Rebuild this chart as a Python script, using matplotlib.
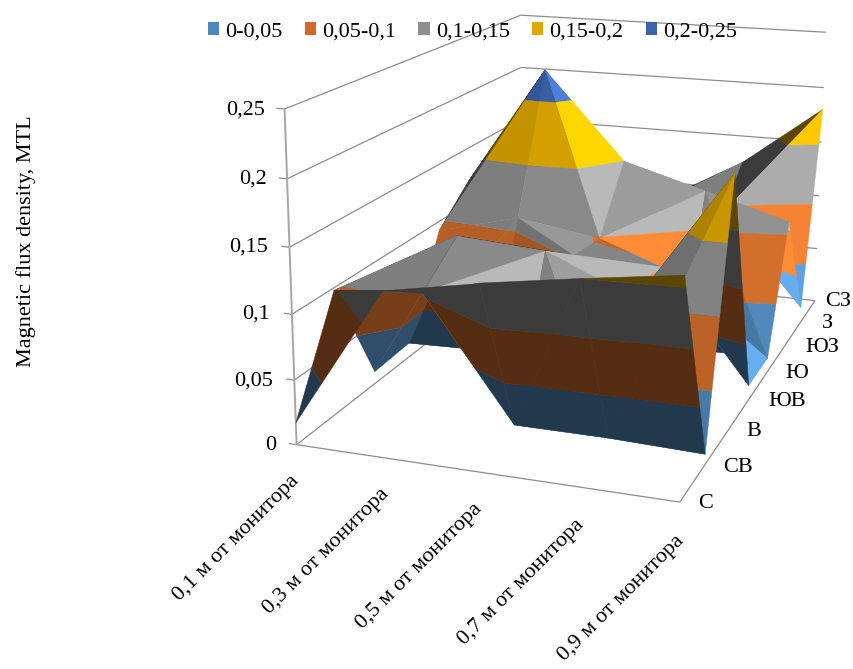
import numpy as np
import matplotlib
matplotlib.use("Agg")
import matplotlib.pyplot as plt
from matplotlib.patches import Patch
from mpl_toolkits.mplot3d.art3d import Poly3DCollection, Line3DCollection

W, H = 854, 669

distances = ['0,1 м от монитора', '0,3 м от монитора', '0,5 м от монитора', '0,7 м от монитора', '0,9 м от монитора']
directions = ['С', 'СВ', 'В', 'ЮВ', 'Ю', 'ЮЗ', 'З', 'СЗ']

# Flux density per direction, one value per distance
row_c = [0.017, 0.126, 0.139, 0.150, 0.160]
row_ne = [0.098, 0.104, 0.010, 0.010, 0.008]
row_e = [0.010, 0.130, 0.125, 0.095, 0.198]
row_se = [0.012, 0.014, 0.103, 0.101, 0.012]
row_s = [0.092, 0.110, 0.099, 0.012, 0.012]
row_sw = [0.120, 0.225, 0.150, 0.130, 0.110]
row_w = [0.110, 0.150, 0.090, 0.095, 0.014]
row_nw = [0.100, 0.120, 0.085, 0.125, 0.180]
flux = np.array([row_c, row_ne, row_e, row_se, row_s, row_sw, row_w, row_nw])

band_edges = [0, 0.05, 0.1, 0.15, 0.2, 0.25]
band_labels = ['0-0,05', '0,05-0,1', '0,1-0,15', '0,15-0,2', '0,2-0,25']
band_colors = ['#5B9BD5', '#ED7D31', '#A5A5A5', '#FFC000', '#4472C4']
legend_colors = ['#4F86BF', '#D0692B', '#8F8F8F', '#E0A800', '#3B63AD']
z_ticks = ['0', '0,05', '0,1', '0,15', '0,2', '0,25']

plt.rcParams['font.family'] = ['Liberation Serif', 'DejaVu Serif']

fig = plt.figure(figsize=(W / 100, H / 100), dpi=100)
ax = fig.add_subplot(projection='3d', computed_zorder=False)
ax.set_position([0, 0, 1, 1])
ax.set_axis_off()

# Camera: solve the 3x4 matrix from known box corners (col, row, value) -> pixel
world = np.array([
    (0, 0, 0), (4, 0, 0), (4, 7, 0), (0, 7, 0),
    (0, 0, 0.25), (0, 0, 0.1), (0, 7, 0.25), (0, 7, 0.2), (0, 7, 0.15),
    (4, 7, 0.25), (4, 7, 0.2), (4, 7, 0.15), (4, 7, 0.1),
])
pixels = np.array([
    (296, 446), (680, 501), (816, 302), (522, 268),
    (285, 109), (292, 314), (520, 16), (520, 68), (522, 118),
    (827, 32), (825, 87), (820, 142), (817, 196),
], dtype=float)

rows, rhs = [], []
for (x, y, z), (u, v) in zip(world, pixels):
    rows.append([x, y, z, 1, 0, 0, 0, 0, -u * x, -u * y, -u * z])
    rows.append([0, 0, 0, 0, x, y, z, 1, -v * x, -v * y, -v * z])
    rhs += [u, v]
sol = np.linalg.lstsq(np.array(rows), np.array(rhs), rcond=None)[0]
camera = np.append(sol, 1.0).reshape(3, 4)
if (camera[2] @ np.array([2, 3.5, 0.1, 1])) < 0:
    camera = -camera


def pixel_proj():
    # pixel coords -> the 2D view coords of the 3D axes
    flip = np.array([[1, 0, 0], [0, -1, H], [0, 0, 1.0]])
    m = ax.transData.inverted().get_matrix() @ flip @ camera
    depth = m[2] - np.array([0, 0, 0, 0.5 * abs(camera[2, 3])])
    return np.array([m[0], m[1], depth, m[2]])


ax.get_proj = pixel_proj

# Surface shading: faces turned away from this direction get the dark underside colour
scale = np.array([0.25, 1 / 7, 3.2])
facing = np.array([0.85, -0.5, 0.25])
# the one face behind the eastern spike that stays in shadow
shadowed = {frozenset({(3, 5), (4, 5), (3, 4)})}


def shade(tri, key):
    if key in shadowed:
        return 0.36
    pts = tri * scale
    n = np.cross(pts[1] - pts[0], pts[2] - pts[0])
    n = n / np.linalg.norm(n)
    if n[2] < 0:
        n = -n
    if n @ facing < 0:
        # undersides open to the left catch a little more light
        if n[0] < -0.4 and n[1] >= -0.2:
            return 0.5
        return 0.36
    if n[0] > 0:
        return min(0.78 + 1.0 * n[0], 1.12)
    return 0.78 + 0.2 * n[0]


def clip_band(tri, lo, hi):
    # cut a triangle down to the part lying between two levels
    poly = list(tri)
    for level, sign in ((lo, 1), (hi, -1)):
        out = []
        for k in range(len(poly)):
            a, b = poly[k], poly[(k + 1) % len(poly)]
            da, db = sign * (a[2] - level), sign * (b[2] - level)
            if da >= 0:
                out.append(a)
            if da * db < 0:
                out.append(a + (b - a) * da / (da - db))
        poly = out
        if not poly:
            break
    return poly


grid_x = np.arange(len(distances))
grid_y = np.arange(len(directions))

order = 10
for j in grid_y[:-1][::-1]:
    for i in grid_x[:-1]:
        a, b, c, d = (i, j), (i + 1, j), (i + 1, j + 1), (i, j + 1)
        # fold along the higher diagonal
        if flux[a[1], a[0]] + flux[c[1], c[0]] >= flux[b[1], b[0]] + flux[d[1], d[0]]:
            faces = [(a, b, c), (a, c, d)]
        else:
            faces = [(a, b, d), (b, c, d)]
        tris = [(np.array([(grid_x[m], grid_y[n], flux[n, m]) for m, n in face], dtype=float), frozenset(face))
                for face in faces]
        tris.sort(key=lambda t: -(camera[2] @ np.append(t[0].mean(axis=0), 1)))
        for tri, key in tris:
            f = shade(tri, key)
            polys, cols = [], []
            for k, col in enumerate(band_colors):
                piece = clip_band(tri, band_edges[k], band_edges[k + 1])
                if len(piece) >= 3:
                    rgb = np.clip(np.array(matplotlib.colors.to_rgb(col)) * f, 0, 1)
                    polys.append(np.array(piece))
                    cols.append(rgb)
            if polys:
                coll = Poly3DCollection(polys, facecolors=cols, edgecolors=cols, linewidths=0.3)
                coll.set_clip_on(False)
                coll.set_zorder(order)
                ax.add_collection3d(coll, autolim=False)
                order += 1

# Walls and floor
grid_color = '#8C8C8C'
grid_segments = []
for level in band_edges:
    grid_segments.append([(-0.09, 0, level), (0, 0, level)])
    grid_segments.append([(0, 0, level), (0, 7, level)])
    grid_segments.append([(0, 7, level), (4, 7, level)])
grid_segments.append([(0, 0, 0), (4, 0, 0)])
grid_segments.append([(4, 0, 0), (4, 7, 0)])
grid = Line3DCollection(grid_segments, colors=grid_color, linewidths=0.9)
grid.set_clip_on(False)
grid.set_zorder(2)
ax.add_collection3d(grid, autolim=False)
spine = Line3DCollection([[(0, 0, 0), (0, 0, 0.25)]], colors='#A6A6A6', linewidths=1.4)
spine.set_clip_on(False)
spine.set_zorder(3)
ax.add_collection3d(spine, autolim=False)


def put(x, y, s, **kw):
    return fig.text(x / W, 1 - y / H, s, fontsize=16, color='black', **kw)


tick_x = [276, 273, 270, 268, 267, 265]
tick_y = [446, 381, 314, 247, 179, 110]
for s, x, y in zip(z_ticks, tick_x, tick_y):
    put(x, y, s, ha='right', va='center')

dir_x = [706, 738, 754, 787, 797, 822, 827, 838]
dir_y = [503, 467, 432, 402, 374, 348, 323, 302]
for s, x, y in zip(directions, dir_x, dir_y):
    put(x, y, s, ha='center', va='center')

dist_x = [236, 326, 419, 521, 621]
dist_y = [538, 551, 566, 582, 598]
for s, x, y in zip(distances, dist_x, dist_y):
    put(x, y, s, ha='center', va='center', rotation=45, rotation_mode='anchor')

put(26, 241, 'Magnetic flux density, MTL', ha='center', va='center', rotation=90)

handles = [Patch(facecolor=c, edgecolor='none') for c in legend_colors]
fig.legend(handles, band_labels, ncol=5, frameon=False, fontsize=16,
           loc='center left', bbox_to_anchor=(208 / W, 1 - 32 / H),
           handlelength=0.5, handleheight=0.5, handletextpad=0.28, columnspacing=1.0,
           borderpad=0, borderaxespad=0)

fig.savefig('out.png', dpi=100)
